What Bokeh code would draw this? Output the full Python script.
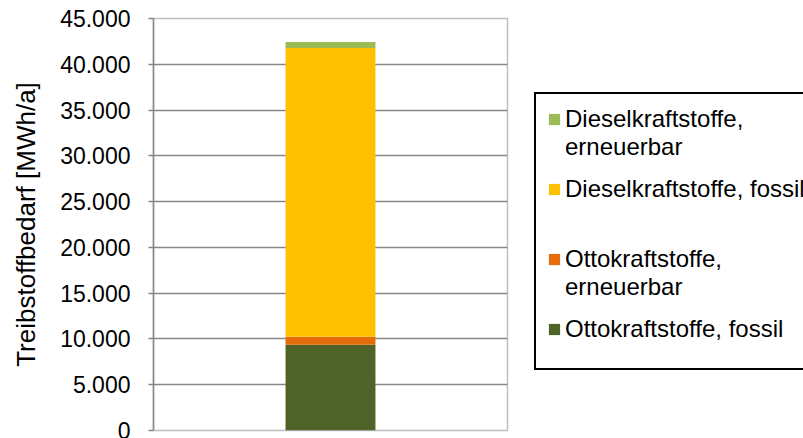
from bokeh.plotting import figure
from bokeh.layouts import row
from bokeh.models import (Range1d, FixedTicker, CustomJSTickFormatter, Legend, LegendItem)
from bokeh.embed import file_html
from bokeh.resources import INLINE

# ---- data ----
bar_x = [0.5]
series_names = ["otto_fossil", "otto_ern", "diesel_fossil", "diesel_ern"]
otto_fossil = [9370]
otto_ern = [870]
diesel_fossil = [31540]
diesel_ern = [650]
colors = ["#4F6228", "#E46C0A", "#FFC000", "#9BBB59"]
y_ticks = [0, 5000, 10000, 15000, 20000, 25000, 30000, 35000, 40000, 45000]
y_label = "Treibstoffbedarf [MWh/a]"
# legend lines (label, series key or None for continuation / blank lines)
legend_lines = [
    ("Dieselkraftstoffe,", "diesel_ern"),
    ("erneuerbar", None),
    ("", None),
    ("Dieselkraftstoffe, fossil", "diesel_fossil"),
    ("", None),
    ("", None),
    ("", None),
    ("Ottokraftstoffe,", "otto_ern"),
    ("erneuerbar", None),
    ("", None),
    ("Ottokraftstoffe, fossil", "otto_fossil"),
    ("", None),
]

data = dict(x=bar_x, otto_fossil=otto_fossil, otto_ern=otto_ern,
            diesel_fossil=diesel_fossil, diesel_ern=diesel_ern)

FONT = "Liberation Sans"

# ---- chart ----
p = figure(width=520, height=438, output_backend="svg", toolbar_location=None,
           x_range=Range1d(0, 1), y_range=Range1d(0, 45000),
           min_border_left=153, min_border_right=13, min_border_top=18,
           min_border_bottom=8)

renderers = p.vbar_stack(series_names, x="x", width=0.254, color=colors,
                         source=data, line_color=None)

p.xaxis.visible = False
p.xgrid.visible = False
p.ygrid.grid_line_color = "#868686"
p.ygrid.grid_line_width = 1.5
p.outline_line_color = "#BFBFBF"
p.outline_line_width = 1.5

ya = p.yaxis[0]
ya.ticker = FixedTicker(ticks=y_ticks)
ya.formatter = CustomJSTickFormatter(code="""
    return Math.round(tick).toString().replace(/\\B(?=(\\d{3})+(?!\\d))/g, ".");
""")
ya.axis_line_color = "#868686"
ya.axis_line_width = 1.5
ya.major_tick_line_color = "#868686"
ya.major_tick_line_width = 1.5
ya.major_tick_in = 0
ya.major_tick_out = 5
ya.minor_tick_line_color = None
ya.major_label_standoff = 18
ya.major_label_text_font = FONT
ya.major_label_text_font_size = "23px"
ya.major_label_text_color = "#000000"
ya.axis_label = y_label
ya.axis_label_text_font = FONT
ya.axis_label_text_font_size = "26px"
ya.axis_label_text_font_style = "normal"
ya.axis_label_text_color = "#000000"
ya.axis_label_standoff = 16

# ---- legend panel ----
p2 = figure(width=283, height=438, output_backend="svg", toolbar_location=None,
            x_axis_type=None, y_axis_type=None,
            x_range=Range1d(0, 1), y_range=Range1d(0, 1),
            min_border=0, min_border_left=0, min_border_right=0,
            min_border_top=0, min_border_bottom=0)
p2.outline_line_color = None
p2.xgrid.visible = False
p2.ygrid.visible = False

color_of = dict(zip(series_names, colors))
items = []
for label, key in legend_lines:
    # legend swatches only (placed outside the visible range)
    if key is None:
        r = p2.vbar(x=[10], top=[10], width=0.1, fill_alpha=0, line_alpha=0)
    else:
        r = p2.vbar(x=[10], top=[10], width=0.1, fill_color=color_of[key],
                    line_color=None)
    items.append(LegendItem(label=label, renderers=[r]))

legend = Legend(items=items, location=(14, 60))
legend.border_line_color = "#000000"
legend.border_line_alpha = 1
legend.border_line_width = 2
legend.background_fill_color = "white"
legend.background_fill_alpha = 1
legend.padding = 11
legend.margin = 0
legend.spacing = 0
legend.glyph_width = 14
legend.glyph_height = 14
legend.label_height = 14
legend.label_standoff = 4
legend.label_width = 270
legend.label_text_font = FONT
legend.label_text_font_size = "24px"
legend.label_text_color = "#000000"
legend.label_text_line_height = 1.12
p2.add_layout(legend, "center")

layout = row(p, p2, spacing=0)
open("out.html", "w").write(file_html(layout, INLINE))
